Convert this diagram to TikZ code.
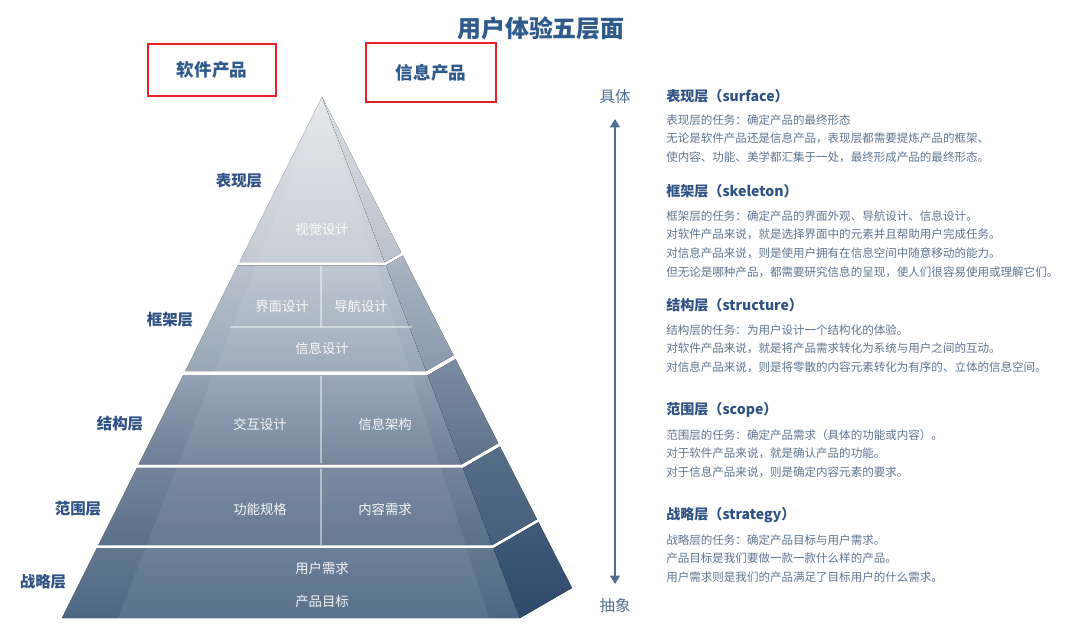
\documentclass[tikz,border=0pt]{standalone}
\usepackage{fontspec}
\setmainfont{Noto Sans CJK SC}
\usetikzlibrary{calc,arrows.meta,positioning}

\definecolor{titleblue}{HTML}{2F5A8C}
\definecolor{nameblue}{HTML}{2D5283}
\definecolor{bodygray}{HTML}{5E7590}
\definecolor{boxred}{HTML}{E8202A}
\definecolor{axisblue}{HTML}{4E6F93}
% front faces (top / bottom) and side faces
\definecolor{ft1}{HTML}{E4E7EC}\definecolor{fb1}{HTML}{C3CAD4}
\definecolor{ft2}{HTML}{BAC3CF}\definecolor{fb2}{HTML}{98A6B6}
\definecolor{ft3}{HTML}{92A1B3}\definecolor{fb3}{HTML}{6C7F96}
\definecolor{ft4}{HTML}{71849A}\definecolor{fb4}{HTML}{5A7089}
\definecolor{ft5}{HTML}{62788F}\definecolor{fb5}{HTML}{4D6783}
\definecolor{st1}{HTML}{DADEE4}\definecolor{sb1}{HTML}{BAC2CD}
\definecolor{st2}{HTML}{AAB5C2}\definecolor{sb2}{HTML}{8898AB}
\definecolor{st3}{HTML}{7A8CA1}\definecolor{sb3}{HTML}{5D728B}
\definecolor{st4}{HTML}{566D87}\definecolor{sb4}{HTML}{465F7C}
\definecolor{st5}{HTML}{405A78}\definecolor{sb5}{HTML}{2E4A6A}

\begin{document}
\begin{tikzpicture}[x=0.025cm, y=-0.025cm,
    layername/.style={font=\fontsize{11}{13}\selectfont\bfseries, text=nameblue},
    inlabel/.style={font=\fontsize{9.5}{11}\selectfont, text=white, text opacity=0.92},
    redbox/.style={draw=boxred, line width=1.3pt, inner sep=0pt, font=\fontsize{12.5}{14}\selectfont\bfseries, text=titleblue},
    head/.style={anchor=west, inner sep=0pt, font=\fontsize{10}{12}\selectfont\bfseries, text=nameblue},
    body/.style={anchor=north west, align=left, inner sep=0pt, font=\fontsize{8.2}{13.3}\selectfont, text=bodygray},
    axis/.style={draw=axisblue, line width=1.1pt, {Triangle[width=7pt,length=6pt]}-{Triangle[width=7pt,length=6pt]}, shorten <=7pt, shorten >=7pt},
    divider/.style={draw=white, draw opacity=0.45, line width=0.9pt}
]
\useasboundingbox (0,0) rectangle (1080,632);

% Title and the two product boxes
\node[font=\fontsize{17}{20}\selectfont\bfseries, text=titleblue] (title) at (541,28) {用户体验五层面};
\node[redbox, minimum width=3.2cm, minimum height=1.3cm] (software) at (212,70) {软件产品};
\node[redbox, minimum width=3.25cm, minimum height=1.475cm] (infoprod) at (431,72.5) {信息产品};

% Pyramid corners
\coordinate (apex) at (322,97);
\coordinate (bl) at (62,618);
\coordinate (br) at (520,618);
\coordinate (bk) at (572,588);
\coordinate (il) at (118,618);
\coordinate (ir) at (489,618);

% Layers: front face, inner panel, side face
\foreach \ta/\tb/\n in {0/0.317/1, 0.323/0.526/2, 0.534/0.705/3, 0.712/0.860/4, 0.866/1/5}{
    \fill[top color=ft\n, bottom color=fb\n]
        ($(apex)!\ta!(bl)$) -- ($(apex)!\ta!(br)$) -- ($(apex)!\tb!(br)$) -- ($(apex)!\tb!(bl)$) -- cycle;
    \fill[white, fill opacity=0.07]
        ($(apex)!\ta!(il)$) -- ($(apex)!\ta!(ir)$) -- ($(apex)!\tb!(ir)$) -- ($(apex)!\tb!(il)$) -- cycle;
    \fill[top color=st\n, bottom color=sb\n]
        ($(apex)!\ta!(br)$) -- ($(apex)!\ta!(bk)$) -- ($(apex)!\tb!(bk)$) -- ($(apex)!\tb!(br)$) -- cycle;
}

% Dividers inside the layers
\draw[divider] (321,266) -- (321,327);
\draw[divider] (230,327) -- (412,327);
\draw[divider] (321,376) -- (321,463);
\draw[divider] (321,469) -- (321,545);

% Labels inside the pyramid
\node[inlabel] (visual) at (322,229) {视觉设计};
\node[inlabel] (interface) at (282,306) {界面设计};
\node[inlabel] (navigation) at (361,306) {导航设计};
\node[inlabel] (infodesign) at (322,348) {信息设计};
\node[inlabel] (interaction) at (260,424) {交互设计};
\node[inlabel] (infoarch) at (385,424) {信息架构};
\node[inlabel] (function) at (260,509) {功能规格};
\node[inlabel] (content) at (385,509) {内容需求};
\node[inlabel] (userneeds) at (322,568) {用户需求};
\node[inlabel] (goals) at (322,601) {产品目标};

% Layer names
\node[layername] (surfacename) at (239,181) {表现层};
\node[layername] (skeletonname) at (170,320) {框架层};
\node[layername] (structurename) at (120,424) {结构层};
\node[layername] (scopename) at (78,509) {范围层};
\node[layername] (strategyname) at (43,582) {战略层};

% Concrete / abstract axis
\node[font=\fontsize{11}{13}\selectfont, text=axisblue] (concrete) at (615,97) {具体};
\node[font=\fontsize{11}{13}\selectfont, text=axisblue] (abstract) at (615,606) {抽象};
\draw[axis] (concrete) -- (abstract);

% Descriptions
\node[head] (surfacehead) at (666,96) {表现层（surface）};
\node[body] (surfacebody) at (666,114) {表现层的任务：确定产品的最终形态\\
无论是软件产品还是信息产品，表现层都需要提炼产品的框架、\\
使内容、功能、美学都汇集于一处，最终形成产品的最终形态。};

\node[head] (skeletonhead) at (666,191) {框架层（skeleton）};
\node[body] (skeletonbody) at (666,210) {框架层的任务：确定产品的界面外观、导航设计、信息设计。\\
对软件产品来说，就是选择界面中的元素并且帮助用户完成任务。\\
对信息产品来说，则是使用户拥有在信息空间中随意移动的能力。\\
但无论是哪种产品，都需要研究信息的呈现，使人们很容易使用或理解它们。};

\node[head] (structurehead) at (666,305) {结构层（structure）};
\node[body] (structurebody) at (666,324) {结构层的任务：为用户设计一个结构化的体验。\\
对软件产品来说，就是将产品需求转化为系统与用户之间的互动。\\
对信息产品来说，则是将零散的内容元素转化为有序的、立体的信息空间。};

\node[head] (scopehead) at (666,410) {范围层（scope）};
\node[body] (scopebody) at (666,429) {范围层的任务：确定产品需求（具体的功能或内容）。\\
对于软件产品来说，就是确认产品的功能。\\
对于信息产品来说，则是确定内容元素的要求。};

\node[head] (strategyhead) at (666,515) {战略层（strategy）};
\node[body] (strategybody) at (666,534) {战略层的任务：确定产品目标与用户需求。\\
产品目标是我们要做一款一款什么样的产品。\\
用户需求则是我们的产品满足了目标用户的什么需求。};

\end{tikzpicture}
\end{document}
